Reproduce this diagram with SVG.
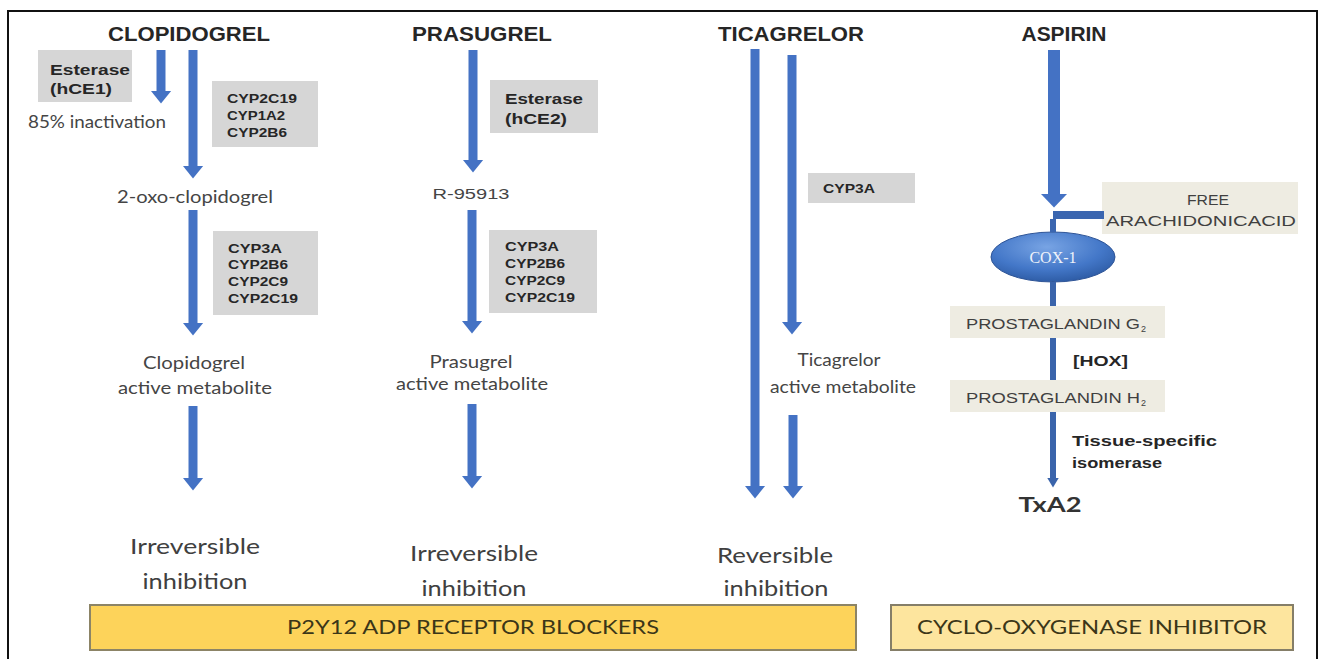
<svg xmlns="http://www.w3.org/2000/svg" width="1324" height="659" viewBox="0 0 1324 659">
<defs>
<marker id="ah" markerUnits="userSpaceOnUse" markerWidth="13" markerHeight="21" viewBox="0 0 13 21" refX="0.5" refY="10.5" orient="auto">
<path d="M0,0 L13,10.5 L0,21 z" fill="#4472c4"/>
</marker>
<marker id="ahBig" markerUnits="userSpaceOnUse" markerWidth="14" markerHeight="27" viewBox="0 0 14 27" refX="0.5" refY="13.5" orient="auto">
<path d="M0,0 L14,13.5 L0,27 z" fill="#4472c4"/>
</marker>
<marker id="ahSmall" markerUnits="userSpaceOnUse" markerWidth="10" markerHeight="12" viewBox="0 0 10 12" refX="0.5" refY="6" orient="auto">
<path d="M0,0 L10,6 L0,12 z" fill="#3a64ab"/>
</marker>
<radialGradient id="coxg" cx="0.45" cy="0.3" r="0.75">
<stop offset="0" stop-color="#78a4e4"/>
<stop offset="0.6" stop-color="#4377c8"/>
<stop offset="1" stop-color="#2a579f"/>
</radialGradient>
</defs>
<style>
.frame{fill:none;stroke:#111;stroke-width:2}
.title{font-family:"Liberation Sans",Arial,sans-serif;font-weight:bold;font-size:21px;fill:#262626;text-anchor:middle}
.enz{font-family:"Liberation Sans",Arial,sans-serif;font-weight:bold;font-size:12.5px;fill:#262626}
.est{font-family:"Liberation Sans",Arial,sans-serif;font-weight:bold;font-size:15px;fill:#262626}
.body{font-family:Lato,"Open Sans",sans-serif;font-size:17px;fill:#454545;text-anchor:middle}
.big{font-family:Lato,"Open Sans",sans-serif;font-size:22px;fill:#404040;text-anchor:middle}
.gray{fill:#d6d6d6}
.beige{fill:#eeece2}
.pg{font-family:"Liberation Sans",Arial,sans-serif;font-size:14px;fill:#404040}
.bold15{font-family:"Liberation Sans",Arial,sans-serif;font-weight:bold;font-size:15px;fill:#262626}
.arr{stroke:#4472c4;stroke-width:9;fill:none}
.arrw{stroke:#4472c4;stroke-width:12;fill:none}
.thin{stroke:#3a64ab;stroke-width:6;fill:none}
.bar{font-family:Lato,"Open Sans",sans-serif;font-size:20px;fill:#3b3618;text-anchor:middle}
</style>
<rect x="0" y="0" width="1324" height="659" fill="#ffffff"/>
<rect class="frame" x="8" y="11" width="1309" height="660"/>

<g id="clopidogrel">
<text class="title" x="189" y="41" textLength="162" lengthAdjust="spacingAndGlyphs">CLOPIDOGREL</text>
</g>
<g id="esterase-hce1">
<rect class="gray" x="38" y="50" width="94" height="52"/>
<text class="est" x="50" y="75" textLength="80" lengthAdjust="spacingAndGlyphs">Esterase</text>
<text class="est" x="50" y="94" textLength="62" lengthAdjust="spacingAndGlyphs">(hCE1)</text>
</g>
<g id="inactivation">
<text class="body" x="97" y="128" textLength="138" lengthAdjust="spacingAndGlyphs">85% inactivation</text>
</g>
<g id="cyp-box-1">
<rect class="gray" x="212" y="81" width="106" height="66"/>
<text class="enz" x="227" y="103" textLength="70" lengthAdjust="spacingAndGlyphs">CYP2C19</text>
<text class="enz" x="227" y="120" textLength="58" lengthAdjust="spacingAndGlyphs">CYP1A2</text>
<text class="enz" x="227" y="137" textLength="60" lengthAdjust="spacingAndGlyphs">CYP2B6</text>
</g>
<g id="oxo-clopidogrel">
<text class="body" x="195" y="203" textLength="156" lengthAdjust="spacingAndGlyphs">2-oxo-clopidogrel</text>
</g>
<g id="cyp-box-2">
<rect class="gray" x="213" y="231" width="105" height="84"/>
<text class="enz" x="228" y="253" textLength="54" lengthAdjust="spacingAndGlyphs">CYP3A</text>
<text class="enz" x="228" y="269" textLength="60" lengthAdjust="spacingAndGlyphs">CYP2B6</text>
<text class="enz" x="228" y="286" textLength="60" lengthAdjust="spacingAndGlyphs">CYP2C9</text>
<text class="enz" x="228" y="303" textLength="70" lengthAdjust="spacingAndGlyphs">CYP2C19</text>
</g>
<g id="clopidogrel-metabolite">
<text class="body" x="194" y="369" textLength="102" lengthAdjust="spacingAndGlyphs">Clopidogrel</text>
<text class="body" x="195" y="394" textLength="154" lengthAdjust="spacingAndGlyphs">active metabolite</text>
</g>
<g id="clopidogrel-result">
<text class="big" x="195" y="554" textLength="130" lengthAdjust="spacingAndGlyphs">Irreversible</text>
<text class="big" x="195" y="589" textLength="105" lengthAdjust="spacingAndGlyphs">inhibition</text>
</g>

<g id="prasugrel">
<text class="title" x="482" y="41" textLength="140" lengthAdjust="spacingAndGlyphs">PRASUGREL</text>
</g>
<g id="esterase-hce2">
<rect class="gray" x="490" y="80" width="108" height="53"/>
<text class="est" x="505" y="104" textLength="78" lengthAdjust="spacingAndGlyphs">Esterase</text>
<text class="est" x="505" y="124" textLength="62" lengthAdjust="spacingAndGlyphs">(hCE2)</text>
</g>
<g id="r95913">
<text x="471" y="199" text-anchor="middle" textLength="77" lengthAdjust="spacingAndGlyphs" style="font-family:'Liberation Sans',Arial,sans-serif;font-size:15px;fill:#454545">R-95913</text>
</g>
<g id="cyp-box-3">
<rect class="gray" x="489" y="230" width="108" height="83"/>
<text class="enz" x="505" y="251" textLength="54" lengthAdjust="spacingAndGlyphs">CYP3A</text>
<text class="enz" x="505" y="268" textLength="60" lengthAdjust="spacingAndGlyphs">CYP2B6</text>
<text class="enz" x="505" y="285" textLength="60" lengthAdjust="spacingAndGlyphs">CYP2C9</text>
<text class="enz" x="505" y="302" textLength="70" lengthAdjust="spacingAndGlyphs">CYP2C19</text>
</g>
<g id="prasugrel-metabolite">
<text class="body" x="471" y="368" textLength="83" lengthAdjust="spacingAndGlyphs">Prasugrel</text>
<text class="body" x="472" y="390" textLength="152" lengthAdjust="spacingAndGlyphs">active metabolite</text>
</g>
<g id="prasugrel-result">
<text class="big" x="474" y="561" textLength="128" lengthAdjust="spacingAndGlyphs">Irreversible</text>
<text class="big" x="474" y="596" textLength="105" lengthAdjust="spacingAndGlyphs">inhibition</text>
</g>

<g id="ticagrelor">
<text class="title" x="791" y="41" textLength="146" lengthAdjust="spacingAndGlyphs">TICAGRELOR</text>
</g>
<g id="cyp-box-4">
<rect class="gray" x="808" y="173" width="107" height="30"/>
<text class="enz" x="823" y="193" textLength="52" lengthAdjust="spacingAndGlyphs">CYP3A</text>
</g>
<g id="ticagrelor-metabolite">
<text class="body" x="839" y="366" textLength="83" lengthAdjust="spacingAndGlyphs">Ticagrelor</text>
<text class="body" x="843" y="393" textLength="146" lengthAdjust="spacingAndGlyphs">active metabolite</text>
</g>
<g id="ticagrelor-result">
<text class="big" x="775" y="563" textLength="116" lengthAdjust="spacingAndGlyphs">Reversible</text>
<text class="big" x="776" y="596" textLength="105" lengthAdjust="spacingAndGlyphs">inhibition</text>
</g>

<g id="aspirin">
<text class="title" x="1064" y="41" textLength="85" lengthAdjust="spacingAndGlyphs">ASPIRIN</text>
</g>
<g id="arachidonic-acid">
<rect class="beige" x="1102" y="182" width="196" height="52"/>
<text class="pg" x="1208" y="205" text-anchor="middle" textLength="42" lengthAdjust="spacingAndGlyphs">FREE</text>
<text class="pg" x="1201" y="226" text-anchor="middle" textLength="190" lengthAdjust="spacingAndGlyphs">ARACHIDONICACID</text>
</g>
<g id="cox-1">
<ellipse cx="1053" cy="257" rx="62" ry="25" fill="url(#coxg)" stroke="#2f5597" stroke-width="1"/>
<text x="1053" y="263" text-anchor="middle" style="font-family:'Liberation Serif','Times New Roman',serif;font-size:16px;fill:#eef2fa">COX-1</text>
</g>
<g id="prostaglandin-g2">
<rect class="beige" x="950" y="306" width="215" height="32"/>
<text class="pg" x="966" y="329" textLength="174" lengthAdjust="spacingAndGlyphs">PROSTAGLANDIN G</text>
<text class="pg" x="1141" y="332" style="font-size:9px">2</text>
</g>
<g id="hox">
<text class="bold15" x="1073" y="366" textLength="55" lengthAdjust="spacingAndGlyphs">[HOX]</text>
</g>
<g id="prostaglandin-h2">
<rect class="beige" x="950" y="380" width="215" height="32"/>
<text class="pg" x="966" y="403" textLength="174" lengthAdjust="spacingAndGlyphs">PROSTAGLANDIN H</text>
<text class="pg" x="1141" y="406" style="font-size:9px">2</text>
</g>
<g id="isomerase">
<text class="bold15" x="1072" y="446" textLength="145" lengthAdjust="spacingAndGlyphs">Tissue-specific</text>
<text class="bold15" x="1072" y="468" textLength="90" lengthAdjust="spacingAndGlyphs">isomerase</text>
</g>
<g id="txa2">
<text x="1050" y="512" text-anchor="middle" style="font-family:Lato,'Open Sans',sans-serif;font-size:21px;font-weight:bold;fill:#333" textLength="63" lengthAdjust="spacingAndGlyphs">TxA2</text>
</g>

<g id="p2y12-blockers">
<rect x="90" y="605" width="766" height="45" fill="#fdd35a" stroke="#8c8466" stroke-width="2"/>
<text class="bar" x="473" y="634" textLength="372" lengthAdjust="spacingAndGlyphs">P2Y12 ADP RECEPTOR BLOCKERS</text>
</g>
<g id="cox-inhibitor">
<rect x="891" y="605" width="402" height="45" fill="#fde59e" stroke="#857e68" stroke-width="2"/>
<text class="bar" x="1092" y="634" textLength="350" lengthAdjust="spacingAndGlyphs">CYCLO-OXYGENASE  INHIBITOR</text>
</g>

<g id="connectors">
<line class="arr" x1="161" y1="50" x2="161" y2="91" marker-end="url(#ah)"/>
<line class="arr" x1="193" y1="50" x2="193" y2="166" marker-end="url(#ah)"/>
<line class="arr" x1="193" y1="210" x2="193" y2="323" marker-end="url(#ah)"/>
<line class="arr" x1="193" y1="406" x2="193" y2="478" marker-end="url(#ah)"/>
<line class="arr" x1="473" y1="50" x2="473" y2="160" marker-end="url(#ah)"/>
<line class="arr" x1="472" y1="210" x2="472" y2="321" marker-end="url(#ah)"/>
<line class="arr" x1="472" y1="404" x2="472" y2="476" marker-end="url(#ah)"/>
<line class="arr" x1="755" y1="49" x2="755" y2="486" marker-end="url(#ah)"/>
<line class="arr" x1="792" y1="55" x2="792" y2="322" marker-end="url(#ah)"/>
<line class="arr" x1="793" y1="415" x2="793" y2="486" marker-end="url(#ah)"/>
<line class="arrw" x1="1054" y1="50" x2="1054" y2="194" marker-end="url(#ahBig)"/>
<rect x="1053" y="211" width="51" height="8" fill="#3b66b0"/>
<rect x="1050" y="219" width="6" height="13" fill="#3b66b0"/>
<line class="thin" x1="1053" y1="282" x2="1053" y2="306"/>
<line class="thin" x1="1053" y1="338" x2="1053" y2="380"/>
<line class="thin" x1="1053" y1="412" x2="1053" y2="478" marker-end="url(#ahSmall)"/>
</g>
</svg>
